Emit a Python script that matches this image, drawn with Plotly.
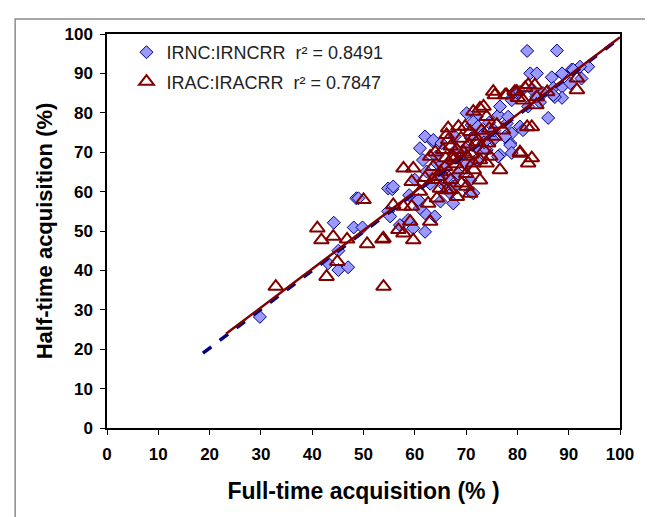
import plotly.graph_objects as go

# IRNC:IRNCRR (diamonds) - full-time vs half-time acquisition (%)
irnc_x = [29.8, 43.1, 45.1, 47.0, 45.1, 44.2, 48.1, 49.8, 48.6, 49.0, 54.8, 54.8,
          55.2, 57.1, 58.7, 59.7, 62.0, 62.0, 63.9, 61.0, 60.7, 58.9, 55.6, 55.8,
          61.0, 63.5, 61.6, 62.3, 64.3, 66.9, 67.5, 62.0, 63.6, 64.2, 64.9, 67.5,
          70.1, 72.1, 76.3, 78.9, 77.9, 78.9, 78.6, 76.6, 73.4, 71.1, 67.8, 65.2,
          69.8, 72.7, 69.1, 66.5, 70.8, 67.8, 65.9, 70.8, 71.4, 71.4, 72.3, 74.0,
          75.3, 76.2, 78.6, 76.6, 78.9, 80.5, 82.1,
          81.9, 87.7, 93.8, 82.5, 83.8, 86.7, 88.7, 90.6, 92.2, 79.2, 80.5, 83.0,
          85.0, 87.0, 88.7, 88.7, 87.3, 84.4, 86.0, 78.2, 77.6, 81.1, 78.9, 83.7,
          87.0, 90.3, 92.5, 90.9,
          66.0, 68.5, 70.0, 72.0, 73.5, 71.0, 68.0, 74.5, 75.5, 63.0, 65.0, 60.0]
irnc_y = [28.2, 41.8, 40.1, 40.8, 45.0, 52.1, 50.9, 50.9, 58.3, 58.3, 55.0, 60.8,
          53.7, 51.5, 52.8, 50.7, 49.8, 54.5, 53.7, 55.8, 57.9, 59.1, 60.6, 61.3,
          71.0, 72.7, 68.0, 65.1, 67.2, 59.6, 57.0, 74.0, 73.1, 68.9, 63.8, 61.3,
          79.9, 79.0, 79.4, 83.7, 77.3, 74.8, 72.3, 69.3, 74.8, 76.9, 74.0, 72.3,
          71.0, 70.6, 68.0, 63.8, 62.9, 61.3, 61.3, 60.0, 59.6, 77.7, 76.5, 70.6,
          73.1, 68.9, 71.8, 81.6, 83.2, 76.5, 81.6,
          95.7, 95.8, 91.7, 90.0, 90.0, 89.0, 90.0, 91.0, 91.7, 85.0, 85.3, 85.8,
          85.0, 86.3, 86.6, 83.8, 84.0, 82.7, 78.7, 79.0, 74.0, 75.6, 69.8, 84.1,
          84.5, 87.5, 88.7, 90.9,
          66.0, 64.5, 67.0, 68.0, 72.5, 73.5, 70.5, 77.5, 75.5, 62.0, 57.5, 63.0]

# IRAC:IRACRR (open triangles)
irac_x = [32.9, 42.8, 44.9, 41.0, 41.8, 44.1, 46.8, 50.7, 53.7, 53.9, 50.0,
          53.9, 56.8, 57.8, 59.7, 59.1, 63.0, 55.8, 57.8, 59.4, 62.6, 64.3, 64.9,
          66.2, 57.8, 59.7, 59.4,
          75.6, 77.6, 79.9, 81.1, 73.4, 71.4, 69.8, 68.5, 66.5, 66.2, 71.7, 74.3,
          77.2, 80.5, 82.1, 74.7, 71.4, 67.5, 65.9, 68.8, 72.7, 70.1, 66.9, 68.2,
          81.5, 83.4, 85.8, 83.8, 91.6, 91.6, 80.1, 81.9, 82.8, 80.5, 82.8,
          75.3, 77.9, 72.7, 74.0, 70.8, 66.5, 65.5, 68.2, 67.5, 70.1, 72.7, 63.6,
          64.6, 69.1, 70.8, 74.0, 76.6, 83.7, 82.1, 79.5, 63.0,
          63.5, 65.0, 67.0, 68.0, 69.5, 70.5, 71.0, 72.0, 73.0, 69.0, 67.0, 64.0,
          66.0, 70.0, 71.5, 73.5, 75.5, 76.0, 74.5, 62.0, 61.0]
irac_y = [35.9, 38.4, 42.2, 50.7, 47.7, 48.6, 47.9, 46.7, 47.9, 35.9, 57.9,
          48.1, 50.3, 49.4, 47.7, 52.4, 52.4, 56.6, 56.2, 56.2, 57.0, 58.3, 60.8,
          60.4, 65.9, 65.9, 62.5,
          84.5, 84.5, 85.4, 83.2, 81.6, 80.3, 76.5, 76.5, 76.1, 74.4, 74.0, 72.3,
          75.6, 69.7, 67.2, 68.9, 67.2, 68.9, 66.3, 65.5, 62.9, 61.3, 60.4, 58.7,
          86.3, 87.0, 85.3, 84.0, 88.8, 85.8, 83.8, 76.4, 76.4, 70.0, 68.5,
          85.4, 84.5, 81.1, 79.0, 75.2, 73.1, 70.6, 70.6, 68.0, 68.9, 68.0, 66.3,
          63.8, 62.1, 59.5, 67.2, 65.5, 82.0, 87.1, 85.4, 68.9,
          63.0, 65.0, 63.0, 67.0, 70.0, 72.0, 69.5, 72.5, 75.5, 73.5, 71.5, 70.0,
          68.5, 64.5, 65.5, 70.5, 74.0, 77.0, 76.0, 63.5, 60.0]

# linear trendlines (end points)
irnc_fit_x = [18.7, 100]
irnc_fit_y = [19.0, 99.0]
irac_fit_x = [23.2, 100]
irac_fit_y = [23.9, 99.2]

ticks = list(range(0, 101, 10))

BLUE = "#000080"
RED = "#800000"
FONT = "Arial, Liberation Sans, sans-serif"

fig = go.Figure()

fig.add_trace(go.Scatter(x=irnc_x, y=irnc_y, mode="markers",
                         name="IRNC:IRNCRR  r² = 0.8491", legendgroup="a",
                         marker=dict(symbol="diamond", size=10, color="#9999FF",
                                     line=dict(color=BLUE, width=1))))
fig.add_trace(go.Scatter(x=irac_x, y=irac_y, mode="markers",
                         name="IRAC:IRACRR  r² = 0.7847", legendgroup="b",
                         marker=dict(symbol="triangle-up-open", size=13, color=RED,
                                     line=dict(color=RED, width=2))))
fig.add_trace(go.Scatter(x=irnc_fit_x, y=irnc_fit_y, mode="lines", showlegend=False,
                         line=dict(color=BLUE, width=3.5, dash="dash")))
fig.add_trace(go.Scatter(x=irac_fit_x, y=irac_fit_y, mode="lines", showlegend=False,
                         line=dict(color=RED, width=2.5)))

axis_common = dict(range=[0, 100], tickvals=ticks, showgrid=False, zeroline=False,
                   showline=True, linecolor="black", linewidth=1.5, mirror=True,
                   ticks="outside", ticklen=5, tickcolor="black", tickwidth=1,
                   tickfont=dict(family=FONT, size=17, color="black", weight="bold"))

fig.update_xaxes(**axis_common, ticklabelstandoff=5,
                 title=dict(text="Full-time acquisition (% )", standoff=20,
                            font=dict(family=FONT, size=23, color="black", weight="bold")))
fig.update_yaxes(**axis_common, ticklabelstandoff=4,
                 title=dict(text="Half-time acquisition (%)", standoff=6,
                            font=dict(family=FONT, size=22, color="black", weight="bold")))

# outer grey frame around the whole picture
fig.add_shape(type="rect", xref="paper", yref="paper",
              x0=-0.179, x1=1.0565, y0=-0.25, y1=1.038,
              line=dict(color="#8c8c8c", width=1.5), layer="below")

# the page puts the figure 8px in from the top-left corner
fig.update_layout(
    width=645, height=509,
    margin=dict(l=99, r=33, t=26, b=89),
    paper_bgcolor="white", plot_bgcolor="white",
    font=dict(family=FONT, color="black"),
    legend=dict(x=0.038, y=1.0, xanchor="left", yanchor="top",
                bgcolor="rgba(0,0,0,0)", tracegroupgap=3,
                font=dict(family=FONT, size=18, color="#222222")),
)

fig.write_html("out.html")
